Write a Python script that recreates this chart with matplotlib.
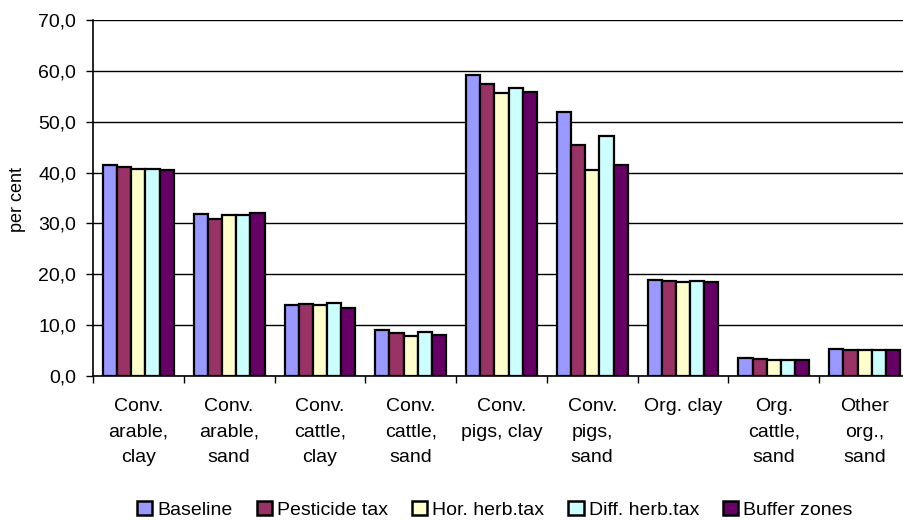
import matplotlib
matplotlib.use("Agg")
import matplotlib.pyplot as plt
import numpy as np

plt.rcParams['font.family'] = ['Liberation Sans', 'DejaVu Sans']

categories = ["Conv.\narable,\nclay", "Conv.\narable,\nsand", "Conv.\ncattle,\nclay",
              "Conv.\ncattle,\nsand", "Conv.\npigs, clay", "Conv.\npigs,\nsand",
              "Org. clay", "Org.\ncattle,\nsand", "Other\norg.,\nsand"]
series_names = ["Baseline", "Pesticide tax", "Hor. herb.tax", "Diff. herb.tax", "Buffer zones"]
baseline = [41.4, 31.9, 14.0, 9.1, 59.2, 51.9, 18.9, 3.5, 5.4]
pesticide_tax = [41.1, 30.9, 14.1, 8.4, 57.4, 45.4, 18.7, 3.3, 5.1]
hor_herb_tax = [40.8, 31.6, 14.0, 7.9, 55.6, 40.5, 18.5, 3.1, 5.1]
diff_herb_tax = [40.8, 31.6, 14.3, 8.6, 56.6, 47.2, 18.7, 3.2, 5.1]
buffer_zones = [40.6, 32.1, 13.4, 8.1, 55.8, 41.5, 18.5, 3.1, 5.1]
colors = ["#9999FF", "#993366", "#FFFFCC", "#CCFFFF", "#660066"]
yticks = [0, 10, 20, 30, 40, 50, 60, 70]

data = [baseline, pesticide_tax, hor_herb_tax, diff_herb_tax, buffer_zones]

fig = plt.figure(figsize=(9.04, 5.2), dpi=100)
ax = fig.add_axes([93/904, 144/520, (910-93)/904, 356/520])

x = np.arange(len(categories))
w = 0.156
for i, (vals, name, c) in enumerate(zip(data, series_names, colors)):
    ax.bar(x + (i - 2) * w, vals, width=w, color=c, edgecolor='black',
           linewidth=1.6, label=name, zorder=3)

ax.set_xlim(-0.5, len(categories) - 0.5)
ax.set_ylim(0, 70)
ax.set_yticks(yticks)
ax.set_yticklabels([f"{v:.1f}".replace('.', ',') for v in yticks], fontsize=14)
ax.yaxis.grid(True, color='black', linewidth=1.0, zorder=0)
ax.set_axisbelow(True)

ax.set_xticks(x)
ax.set_xticklabels(categories, fontsize=14, linespacing=1.65, va='top')
ax.tick_params(axis='x', which='major', length=0, pad=16)
ax.set_xticks(np.arange(-0.5, len(categories) + 0.5, 1), minor=True)
ax.tick_params(axis='x', which='minor', length=5, width=1, direction='out')
ax.tick_params(axis='y', length=5, width=1, direction='out', pad=7)

for s in ['top', 'right']:
    ax.spines[s].set_visible(False)
ax.spines['left'].set_linewidth(1.2)
ax.spines['bottom'].set_linewidth(1.2)

fig.text(18/904, 1 - 200/520, "per cent", rotation=90, fontsize=13, ha='center', va='center')

leg = fig.legend(loc='center', bbox_to_anchor=(495/904, 1 - 510/520), ncol=5, frameon=False,
                 fontsize=14, handlelength=0.78, handleheight=0.72, handletextpad=0.26,
                 columnspacing=1.24)
for h in leg.legend_handles:
    h.set_linewidth(1.8)

fig.savefig("out.png", dpi=100)
